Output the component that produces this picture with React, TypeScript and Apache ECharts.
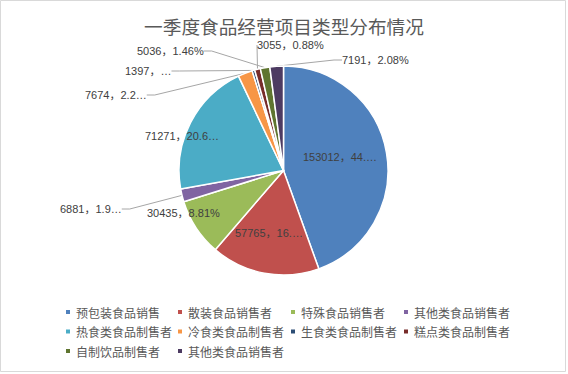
import React, { useEffect, useRef } from "react";
import * as echarts from "echarts";

const titleText = "一季度食品经营项目类型分布情况";
const categories = [
  "预包装食品销售",
  "散装食品销售者",
  "特殊食品销售者",
  "其他类食品销售者",
  "热食类食品制售者",
  "冷食类食品制售者",
  "生食类食品制售者",
  "糕点类食品制售者",
  "自制饮品制售者",
  "其他类食品销售者",
];
const values = [153012, 57765, 30435, 6881, 71271, 7674, 1397, 3055, 5036, 7191];
const percentTexts = ["44.…", "16.…", "8.81%", "1.9…", "20.6…", "2.2…", "…", "0.88%", "1.46%", "2.08%"];
const colors = [
  "#4F81BD", "#C0504D", "#9BBB59", "#8064A2", "#4BACC6",
  "#F79646", "#2C4D75", "#772C2A", "#5F7530", "#4D3B62",
];
const insideLabels = [true, true, true, false, true, false, false, false, false, false];
// legend columns (indices into categories)
const legendColumns = [
  [0, 4, 8],
  [1, 5, 9],
  [2, 6],
  [3, 7],
];

// layout: label anchor (left edge, vertical middle) for each slice label, as Excel's "best fit" placed them
const labelAnchors = [
  [303, 157], [235, 233], [147, 213], [60, 209], [145, 136],
  [85, 95], [125, 71], [257, 45], [137, 51], [342, 60],
];

export default function App() {
  const ref = useRef<HTMLDivElement>(null);
  useEffect(() => {
    if (!ref.current) return;
    const chart = echarts.init(ref.current, undefined, { renderer: "svg" });
    const colLefts = [64, 176, 289, 402];
    const option: any = {
      animation: false,
      backgroundColor: "#fff",
      title: {
        text: titleText,
        left: "center",
        top: 11,
        textStyle: {
          fontSize: 18.67,
          fontWeight: "normal",
          color: "#595959",
          fontFamily: "Noto Sans CJK SC",
        },
      },
      legend: legendColumns.map((col, ci) => ({
        orient: "vertical",
        left: colLefts[ci],
        top: 306,
        padding: 0,
        itemWidth: 6,
        itemHeight: 6,
        itemGap: 7.5,
        icon: "rect",
        selectedMode: false,
        textStyle: {
          fontSize: 12,
          lineHeight: 12,
          color: "#595959",
          fontFamily: "Noto Sans CJK SC",
        },
        data: col.map((i) => ({ name: categories[i], itemStyle: { color: colors[i] } })),
      })),
      graphic: [
        {
          type: "rect",
          shape: { x: 0.5, y: 0.5, width: 565, height: 371 },
          style: { fill: "none", stroke: "#d9d9d9", lineWidth: 1 },
          silent: true,
        },
      ],
      series: [
        {
          type: "pie",
          center: [283.5, 170.5],
          radius: 104.5,
          startAngle: 90,
          clockwise: true,
          avoidLabelOverlap: false,
          itemStyle: { borderColor: "#fff", borderWidth: 1.5 },
          label: {
            fontSize: 11,
            color: "#404040",
            fontFamily: "Liberation Sans, Noto Sans CJK SC",
            formatter: (p: any) => `${p.value}，${percentTexts[p.dataIndex]}`,
          },
          labelLine: {
            lineStyle: { color: "#a6a6a6", width: 1 },
            length: 20,
            length2: 8,
          },
          labelLayout: (p: any) => {
            const a = labelAnchors[p.dataIndex];
            return { x: a[0], y: a[1], align: "left", verticalAlign: "middle" };
          },
          data: categories.map((name, i) => ({
            name,
            value: values[i],
            itemStyle: { color: colors[i] },
            label: { position: insideLabels[i] ? "inside" : "outside" },
            labelLine: { show: !insideLabels[i] },
          })),
        },
      ],
    };
    chart.setOption(option);
    return () => chart.dispose();
  }, []);
  return (
    <div
      ref={ref}
      style={{ position: "fixed", left: 0, top: 0, width: 568, height: 374 }}
    />
  );
}
